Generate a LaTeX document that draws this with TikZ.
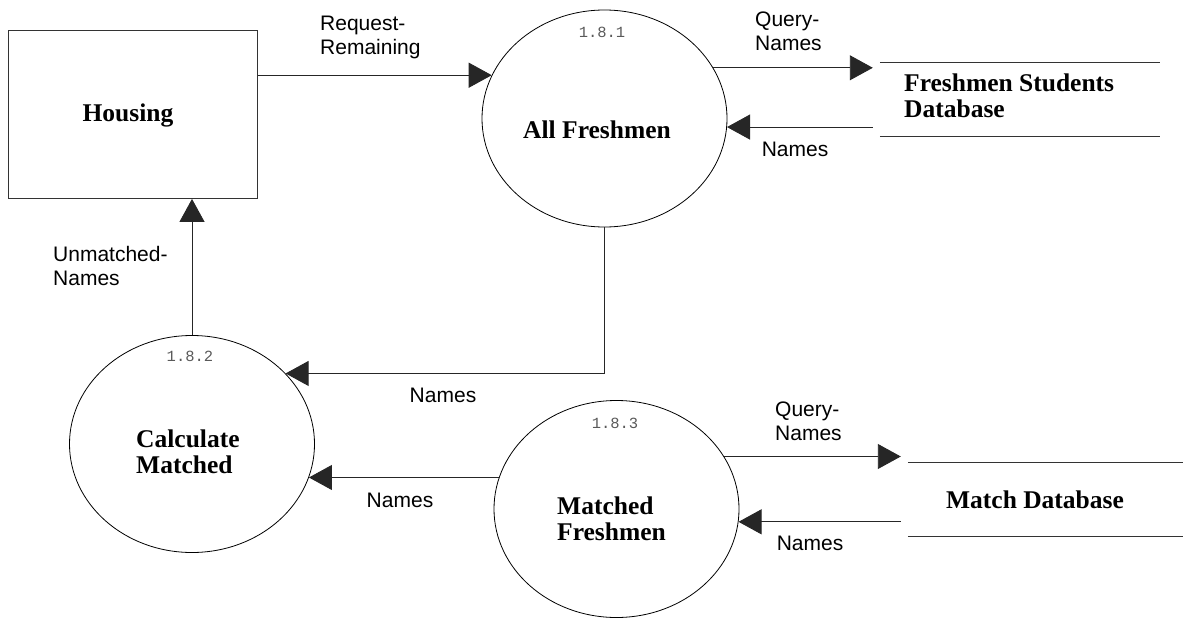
\documentclass[tikz,border=0pt]{standalone}
\usepackage{fontspec}
\setmainfont{Liberation Serif}
\setsansfont{Liberation Sans}
\setmonofont{Liberation Mono}
\usetikzlibrary{arrows.meta,shapes.geometric}
\begin{document}
\begin{tikzpicture}[x=1pt,y=-1pt,
  flow/.style={draw=black!85, line width=0.9pt, -{Triangle[length=23pt,width=25pt]}},
  proc/.style={ellipse, draw, line width=0.8pt, minimum width=245pt, minimum height=217pt, inner sep=0pt},
  entity/.style={draw=black!80, line width=0.9pt, minimum width=249pt, minimum height=168pt, inner sep=0pt},
  store/.style={minimum height=73pt, inner sep=0pt},
  storeline/.style={draw=black!80, line width=0.9pt},
  title/.style={font=\bfseries\fontsize{25.5}{26}\selectfont, align=left, inner sep=0pt},
  lbl/.style={font=\sffamily\fontsize{21}{24}\selectfont, align=left, inner sep=0pt},
  num/.style={font=\ttfamily\fontsize{15.5}{16}\selectfont, text=black!65, inner sep=0pt}]
\useasboundingbox (0,0) rectangle (1183,618);

% external entity
\node[entity, anchor=north west] (housing) at (8,30) {};
\node[title] (housingt) at (128,115) {Housing};

% processes
\node[proc] (p1) at (604.5,118.5) {};
\node[proc] (p2) at (192,444) {};
\node[proc] (p3) at (616.5,509) {};
\node[num] (n1) at (602,32) {1.8.1};
\node[num] (n2) at (190,356) {1.8.2};
\node[num] (n3) at (615,423) {1.8.3};
\node[title] (t1) at (597,130) {All Freshmen};
\node[title, anchor=west] (t2) at (136,451.5) {Calculate\\Matched};
\node[title, anchor=west] (t3) at (557,518.5) {Matched\\Freshmen};

% data stores
\node[store, minimum width=280pt] (db1) at (1020,99.5) {};
\draw[storeline] (db1.north west) -- (db1.north east);
\draw[storeline] (db1.south west) -- (db1.south east);
\node[title, anchor=west] (db1t) at (904,96) {Freshmen Students\\Database};
\node[store, minimum width=275pt] (db2) at (1045.5,499.5) {};
\draw[storeline] (db2.north west) -- (db2.north east);
\draw[storeline] (db2.south west) -- (db2.south east);
\node[title] (db2t) at (1035,500) {Match Database};

\coordinate (db1in) at ([xshift=-7pt]db1.west);
\coordinate (db2in) at ([xshift=-7pt]db2.west);

% flows
\draw[flow] (housing.east |- p1.159) -- (p1.159);
\draw[flow] (p1.25) -- (db1in |- p1.25);
\draw[flow] (db1in |- p1.-4) -- (p1.-4);
\draw[flow] (p1.south) |- (p2.37);
\draw[flow] (p2.north) -- (p2.north |- housing.south);
\draw[flow] (p3.165) -- (p2.-16 |- p3.165);
\draw[flow] (p3.26) -- (db2in |- p3.26);
\draw[flow] (db2in |- p3.-6) -- (p3.-6);

% flow labels
\node[lbl, anchor=west] (l1) at (320,37.5) {Request-\\Remaining};
\node[lbl, anchor=west] (l2) at (755,31.5) {Query-\\Names};
\node[lbl] (l3) at (795,149) {Names};
\node[lbl, anchor=west] (l4) at (53,266) {Unmatched-\\Names};
\node[lbl] (l5) at (443,395) {Names};
\node[lbl] (l6) at (400,500) {Names};
\node[lbl, anchor=west] (l7) at (775,421.5) {Query-\\Names};
\node[lbl] (l8) at (810,543) {Names};
\end{tikzpicture}
\end{document}
